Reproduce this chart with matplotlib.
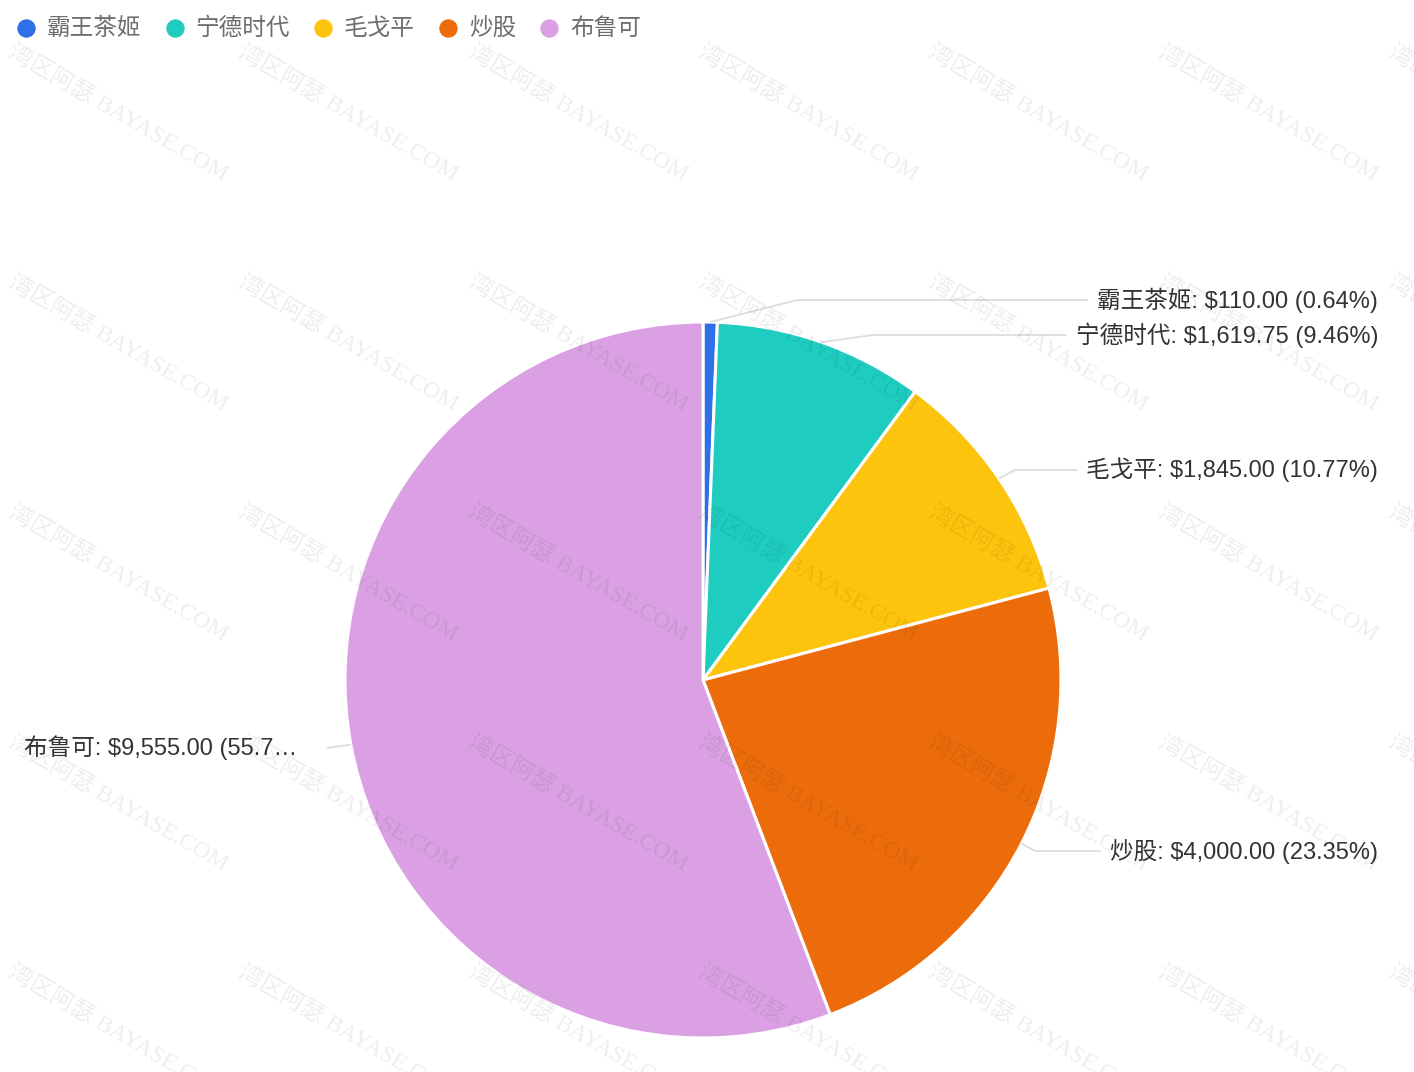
import matplotlib
matplotlib.use('Agg')
import numpy as np
import matplotlib.pyplot as plt
from matplotlib.lines import Line2D

# ---- data ----
names = ['霸王茶姬', '宁德时代', '毛戈平', '炒股', '布鲁可']
values = [110.00, 1619.75, 1845.00, 4000.00, 9555.00]
colors = ['#2f6fe8', '#1ecdbf', '#fdc40e', '#ec6c0b', '#daa0e3']
watermark = '湾区阿瑟 BAYASE.COM'

# ---- layout (pixel units, y measured from top) ----
W, H = 1414, 1072
CX, CY, R = 703, 680, 358
label_side = ['right', 'right', 'right', 'right', 'left']
label_y = [300, 335, 470, 851, 748]
elbow_x = [797, 873, 1015, 1035, 327]
RIGHT_X, LEFT_X = 1378, 24
FONT = ['Liberation Sans', 'Noto Sans CJK SC', 'DejaVu Sans']

fig = plt.figure(figsize=(W / 100, H / 100), dpi=100)
ax = fig.add_axes([0, 0, 1, 1])

wedges, _ = ax.pie(values, colors=colors, startangle=90, counterclock=False,
                   center=(CX, H - CY), radius=R,
                   wedgeprops=dict(edgecolor='white', linewidth=2.2))
ax.set_xlim(0, W)
ax.set_ylim(0, H)
ax.set_aspect('auto')
ax.axis('off')

total = sum(values)
renderer = fig.canvas.get_renderer()

for i, (w, name, v) in enumerate(zip(wedges, names, values)):
    pct = v / total * 100
    txt = f'{name}: ${v:,.2f} ({pct:.2f}%)'
    if label_side[i] == 'left' and len(txt) > 20:
        txt = txt[:20] + '…'
    ly = H - label_y[i]
    if label_side[i] == 'right':
        t = ax.text(RIGHT_X, ly, txt, ha='right', va='center', fontsize=17,
                    family=FONT, color='#333333', zorder=5)
    else:
        t = ax.text(LEFT_X, ly, txt, ha='left', va='center', fontsize=17,
                    family=FONT, color='#333333', zorder=5)
    bb = t.get_window_extent(renderer)
    mid = np.deg2rad((w.theta1 + w.theta2) / 2)
    sx = CX + R * np.cos(mid)
    sy = (H - CY) + R * np.sin(mid)
    if label_side[i] == 'right':
        endx = bb.x0 - 9
    else:
        endx = max(bb.x1 + 10, elbow_x[i])
    ax.add_line(Line2D([sx, elbow_x[i], endx], [sy, ly, ly], color='#dddddd',
                       lw=1.3, zorder=4, solid_capstyle='butt'))

# ---- legend (manual) ----
lx = 26
for name, c in zip(names, colors):
    ax.scatter([lx], [H - 28], s=175, color=c, zorder=6, linewidths=0)
    t = ax.text(lx + 21, H - 29, name, ha='left', va='center', fontsize=17,
                family=FONT, color='#6e6e6e', zorder=6)
    bb = t.get_window_extent(renderer)
    lx = bb.x1 + 33

# ---- watermark grid ----
for i in range(7):
    for j in range(5):
        ax.text(118 + 230 * i, H - (113 + 230 * j), watermark, rotation=-30,
                rotation_mode='anchor', ha='center', va='center', fontsize=17,
                family=['Liberation Serif', 'Noto Sans CJK SC'],
                color='#000000', alpha=0.07, zorder=7)

fig.savefig('out.png', dpi=100, facecolor='white')
